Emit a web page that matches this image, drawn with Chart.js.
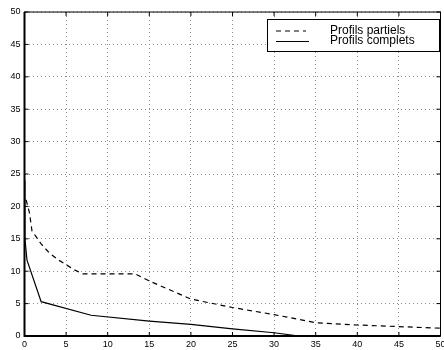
<!DOCTYPE html>
<html>
<head>
<meta charset="utf-8">
<script src="https://cdn.jsdelivr.net/npm/chart.js@4/dist/chart.umd.min.js"></script>
<style>
  html, body { margin: 0; padding: 0; background: #fff; }
  #wrap { width: 444px; height: 350px; }
</style>
</head>
<body>
<div id="wrap"><canvas id="chart"></canvas></div>
<script>
// partial profiles (dashed)
const partielsX = [0.2, 0.6, 0.9, 1.3, 2, 3, 4, 5, 6, 7, 13.3, 15, 20, 25, 30, 35, 40, 45, 50];
const partielsY = [21, 19, 16.2, 15.5, 14.2, 12.8, 11.8, 11, 10.2, 9.6, 9.6, 8.5, 5.7, 4.4, 3.3, 2.05, 1.7, 1.45, 1.2];

// complete profiles (solid)
const completsX = [0, 0.05, 0.3, 2, 8, 15, 20, 25, 30, 33];
const completsY = [24, 15, 11.7, 5.3, 3.2, 2.3, 1.8, 1.1, 0.5, 0];

const seriesLabels = ["Profils partiels", "Profils complets"];
const tickValues = [0, 5, 10, 15, 20, 25, 30, 35, 40, 45, 50];

const FONT = "'Liberation Sans', Arial, Helvetica, sans-serif";

const toPoints = (xs, ys) => xs.map((x, i) => ({ x, y: ys[i] }));

// frame, inward ticks and boxed legend, MATLAB style
const framePlugin = {
  id: "frame",
  afterDraw: (chart) => {
    const { ctx, chartArea: a, scales } = chart;
    ctx.save();
    ctx.strokeStyle = "#000";
    ctx.lineWidth = 1;
    ctx.strokeRect(a.left, a.top, a.right - a.left, a.bottom - a.top);
    ctx.lineWidth = 2;
    ctx.beginPath();
    ctx.moveTo(a.left, a.top);
    ctx.lineTo(a.left, a.bottom);
    ctx.lineTo(a.right, a.bottom);
    ctx.stroke();

    ctx.lineWidth = 1;
    ctx.beginPath();
    for (const v of tickValues) {
      const px = scales.x.getPixelForValue(v);
      ctx.moveTo(px, a.bottom);
      ctx.lineTo(px, a.bottom - 4);
      ctx.moveTo(px, a.top);
      ctx.lineTo(px, a.top + 4);
      const py = scales.y.getPixelForValue(v);
      ctx.moveTo(a.left, py);
      ctx.lineTo(a.left + 4, py);
      ctx.moveTo(a.right, py);
      ctx.lineTo(a.right - 4, py);
    }
    ctx.stroke();

    // legend box
    const bx = 267.5, by = 19.5, bw = 172, bh = 32;
    ctx.fillStyle = "#fff";
    ctx.fillRect(bx, by, bw, bh);
    ctx.lineWidth = 1;
    ctx.strokeRect(bx, by, bw, bh);

    ctx.beginPath();
    ctx.setLineDash([5, 4]);
    ctx.moveTo(276, 31);
    ctx.lineTo(306, 31);
    ctx.stroke();
    ctx.setLineDash([]);
    ctx.beginPath();
    ctx.moveTo(276, 41.5);
    ctx.lineTo(309, 41.5);
    ctx.stroke();

    ctx.fillStyle = "#000";
    ctx.font = "12px " + FONT;
    ctx.textBaseline = "middle";
    ctx.textAlign = "left";
    ctx.fillText(seriesLabels[0], 330, 30.5);
    ctx.fillText(seriesLabels[1], 330, 41);
    ctx.restore();
  },
};

const gridOpts = {
  color: "#8a8a8a",
  lineWidth: 1,
  drawTicks: false,
};

new Chart(document.getElementById("chart"), {
  type: "line",
  data: {
    datasets: [
      {
        label: seriesLabels[0],
        data: toPoints(partielsX, partielsY),
        borderColor: "#000",
        borderWidth: 1.2,
        borderDash: [5, 4],
        pointRadius: 0,
        tension: 0,
        fill: false,
      },
      {
        label: seriesLabels[1],
        data: toPoints(completsX, completsY),
        borderColor: "#000",
        borderWidth: 1.2,
        pointRadius: 0,
        tension: 0,
        fill: false,
      },
    ],
  },
  options: {
    responsive: true,
    maintainAspectRatio: false,
    animation: false,
    layout: { padding: { top: 12, right: 3.5, left: 0, bottom: 0 } },
    plugins: {
      legend: { display: false },
      tooltip: { enabled: false },
    },
    scales: {
      x: {
        type: "linear",
        min: 0,
        max: 50,
        afterBuildTicks: (s) => { s.ticks = tickValues.map((v) => ({ value: v })); },
        afterFit: (s) => { s.height = 14; s.paddingLeft = 0; s.paddingRight = 0; },
        grid: gridOpts,
        border: { display: false, dash: [1, 3] },
        ticks: {
          color: "#000",
          padding: 3,
          maxRotation: 0,
          font: { family: FONT, size: 9 },
        },
      },
      y: {
        type: "linear",
        min: 0,
        max: 50,
        afterBuildTicks: (s) => { s.ticks = tickValues.map((v) => ({ value: v })); },
        afterFit: (s) => { s.width = 24.5; s.paddingTop = 0; s.paddingBottom = 0; },
        grid: gridOpts,
        border: { display: false, dash: [1, 3] },
        ticks: {
          color: "#000",
          padding: 4,
          font: { family: FONT, size: 9 },
        },
      },
    },
  },
  plugins: [framePlugin],
});
</script>
</body>
</html>
